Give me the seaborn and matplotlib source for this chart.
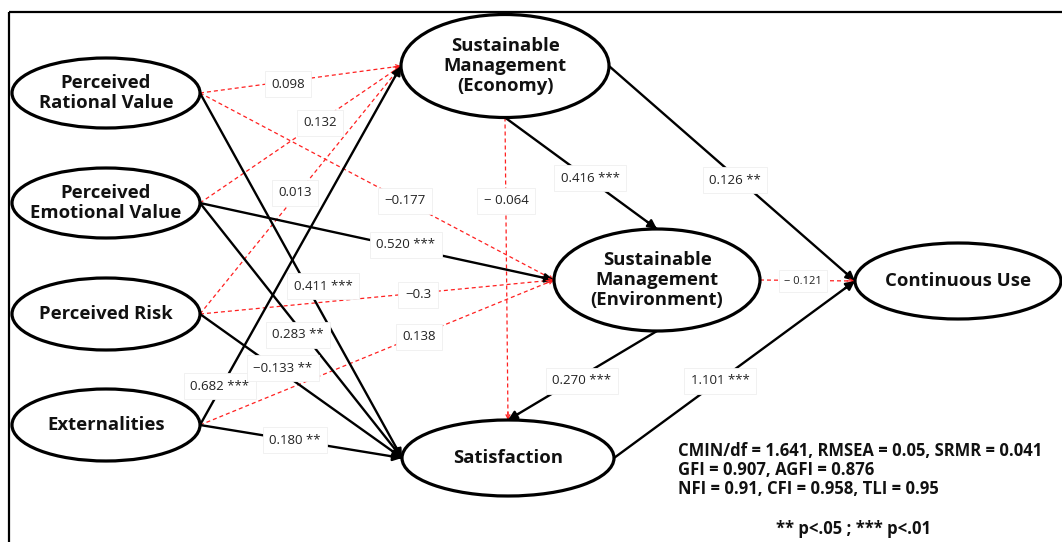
import numpy as np
import pandas as pd
import matplotlib
matplotlib.use("Agg")
import matplotlib.pyplot as plt
from matplotlib.patches import Ellipse
import seaborn as sns

# ---------------- data ----------------
node_ids = ["PRV", "PEV", "PR", "EXT", "SME", "SMV", "SAT", "CU"]
node_names = ["Perceived\nRational Value", "Perceived\nEmotional Value", "Perceived Risk",
              "Externalities", "Sustainable\nManagement\n(Economy)",
              "Sustainable\nManagement\n(Environment)", "Satisfaction", "Continuous Use"]

edge_source = ["PRV", "PEV", "PR", "EXT", "PRV", "PEV", "PR", "EXT", "PRV", "PEV", "PR", "EXT",
               "SME", "SME", "SME", "SMV", "SMV", "SAT"]
edge_target = ["SME", "SME", "SME", "SME", "SMV", "SMV", "SMV", "SMV", "SAT", "SAT", "SAT", "SAT",
               "SMV", "SAT", "CU", "SAT", "CU", "CU"]
edge_labels = ["0.098", "0.132", "0.013", "0.682 ***", "\u22120.177", "0.520 ***", "\u22120.3", "0.138",
               "0.411 ***", "0.283 **", "\u22120.133 **", "0.180 **",
               "0.416 ***", "\u2212 0.064", "0.126 **", "0.270 ***", "\u2212 0.121", "1.101 ***"]
edge_sig = ["ns", "ns", "ns", "sig", "ns", "sig", "ns", "ns", "sig", "sig", "sig", "sig",
            "sig", "ns", "sig", "sig", "ns", "sig"]

fit_lines = ["CMIN/df = 1.641, RMSEA = 0.05, SRMR = 0.041",
             "GFI = 0.907, AGFI = 0.876",
             "NFI = 0.91, CFI = 0.958, TLI = 0.95"]
sig_note = "** p<.05 ; *** p<.01"

# ---------------- layout (pixels) ----------------
node_layout = {  # cx, cy, w, h
    "PRV": (106, 93, 188, 70),
    "PEV": (106, 203, 188, 70),
    "PR": (106, 314, 188, 72),
    "EXT": (106, 425, 188, 72),
    "SME": (505, 66, 208, 103),
    "SMV": (657, 280, 206, 102),
    "SAT": (508, 458, 212, 76),
    "CU": (958, 281, 206, 76),
}
edge_sides = [("r", "l")] * 12 + [("b", "t"), ("b", "t"), ("r", "l"), ("b", "t"), ("r", "l"), ("r", "l")]
label_pos = [(288, 84), (320, 123), (295, 193), (220, 386), (405, 201), (406, 245), (418, 295),
             (419, 337), (323, 286), (298, 335), (283, 368), (295, 440),
             (590, 178), (506, 201), (735, 180), (582, 381), (803, 281), (720, 381)]


def anchor(node, side):
    cx, cy, w, h = node_layout[node]
    return {"r": (cx + w / 2, cy), "l": (cx - w / 2, cy),
            "t": (cx, cy - h / 2), "b": (cx, cy + h / 2)}[side]


W, H = 1062, 542
sns.set_theme(style="white")
plt.rcParams["font.family"] = ["Open Sans", "DejaVu Sans"]

fig = plt.figure(figsize=(W / 100, H / 100), dpi=100)
ax = fig.add_axes([0, 0, 1, 1])

rows = []
for i, (s, t) in enumerate(zip(edge_source, edge_target)):
    p0 = anchor(s, edge_sides[i][0])
    p1 = anchor(t, edge_sides[i][1])
    rows.append({"edge": i, "k": 0, "x": p0[0], "y": p0[1], "kind": edge_sig[i]})
    rows.append({"edge": i, "k": 1, "x": p1[0], "y": p1[1], "kind": edge_sig[i]})
df = pd.DataFrame(rows)

sns.lineplot(data=df, x="x", y="y", units="edge", estimator=None, sort=False,
             hue="kind", palette={"sig": "black", "ns": "#ff2020"},
             style="kind", dashes={"sig": "", "ns": (3.2, 2.4)},
             size="kind", sizes={"sig": 1.7, "ns": 0.9},
             legend=False, ax=ax, zorder=1)

# arrowheads
for i, (s, t) in enumerate(zip(edge_source, edge_target)):
    p0 = np.array(anchor(s, edge_sides[i][0]))
    p1 = np.array(anchor(t, edge_sides[i][1]))
    u = (p1 - p0) / np.linalg.norm(p1 - p0)
    if edge_sig[i] == "sig":
        ax.annotate("", xy=p1, xytext=p1 - 12 * u,
                    arrowprops=dict(arrowstyle="-|>", color="black", lw=1.7,
                                    mutation_scale=13, shrinkA=0, shrinkB=0), zorder=2)
    else:
        ax.annotate("", xy=p1, xytext=p1 - 8 * u,
                    arrowprops=dict(arrowstyle="->", color="#ff2020", lw=0.9,
                                    mutation_scale=7, shrinkA=0, shrinkB=0), zorder=2)

# nodes
for nid, name in zip(node_ids, node_names):
    cx, cy, w, h = node_layout[nid]
    ax.add_patch(Ellipse((cx, cy), w, h, facecolor="white", edgecolor="black", lw=2.3, zorder=3))
    ax.text(cx, cy, name, ha="center", va="center", fontsize=13.3, fontweight="bold",
            linespacing=1.16, color="#111111", zorder=4)

# edge labels
for i, lab in enumerate(edge_labels):
    x, y = label_pos[i]
    fs = 8 if lab.endswith("0.121") else 9.5
    ax.text(x, y, lab, ha="center", va="center", fontsize=fs, color="#222222", zorder=6,
            bbox=dict(boxstyle="square,pad=0.5", facecolor="white", edgecolor="#efefef", lw=0.6))

# fit statistics
for j, line in enumerate(fit_lines):
    ax.text(678, 451 + 19 * j, line, ha="left", va="center", fontsize=12,
            fontweight="bold", color="#111111", zorder=6)
ax.text(853, 529, sig_note, ha="center", va="center", fontsize=12,
        fontweight="bold", color="#111111", zorder=6)

# frame
ax.plot([9, W], [12, 12], color="black", lw=1.6, zorder=7, solid_capstyle="butt")
ax.plot([9, 9], [12, H], color="black", lw=1.6, zorder=7, solid_capstyle="butt")

ax.set_xlim(0, W)
ax.set_ylim(H, 0)
ax.axis("off")
fig.savefig("out.png", dpi=100, facecolor="white")
